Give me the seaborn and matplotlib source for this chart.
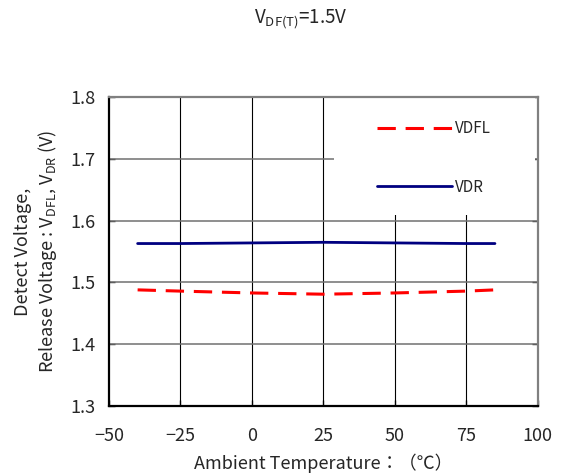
import pandas as pd
import seaborn as sb
import matplotlib.pyplot as plt
from matplotlib.patches import Rectangle

# valores
temperatura = [-40, -25, 0, 25, 50, 75, 85]
vdfl = [1.488, 1.486, 1.483, 1.481, 1.483, 1.486, 1.488]
vdr = [1.563, 1.563, 1.564, 1.565, 1.564, 1.563, 1.563]

dados = pd.DataFrame({'temp': temperatura, 'VDFL': vdfl, 'VDR': vdr})

sb.set_style('white')
plt.rcParams['font.family'] = ['Noto Sans CJK JP', 'DejaVu Sans']
plt.rcParams['mathtext.default'] = 'regular'
plt.rcParams['axes.unicode_minus'] = True

fig = plt.figure(figsize=(5.62, 4.76), dpi=100)
ax = fig.add_axes([0.194, 0.147, 0.763, 0.649])

sb.lineplot(data=dados, x='temp', y='VDFL', ax=ax, color='#ff0000', lw=2.2,
            label='VDFL', zorder=3)
ax.lines[-1].set_dashes((6, 3.2))
sb.lineplot(data=dados, x='temp', y='VDR', ax=ax, color='#000080', lw=2.0,
            label='VDR', zorder=3)

ax.set_xlim(-50, 100)
ax.set_ylim(1.3, 1.8)
ax.set_xticks([-50, -25, 0, 25, 50, 75, 100])
ax.set_yticks([1.3, 1.4, 1.5, 1.6, 1.7, 1.8])
ax.set_yticklabels(['1.3', '1.4', '1.5', '1.6', '1.7', '1.8'])

# grade: verticais pretas, horizontais cinza
ax.grid(False)
for x in [-25, 0, 25, 50, 75]:
    ax.axvline(x, color='black', lw=0.8, zorder=1)
for y in [1.4, 1.5, 1.6, 1.7]:
    ax.axhline(y, color='#707070', lw=1.1, zorder=1)

# fundo branco da legenda (cobre a grade)
ax.add_patch(Rectangle((0.524, 0.618), 0.469, 0.379, transform=ax.transAxes,
                       facecolor='white', edgecolor='none', zorder=2))

for lado in ['left', 'bottom']:
    ax.spines[lado].set_color('black')
    ax.spines[lado].set_linewidth(1.6)
for lado in ['top', 'right']:
    ax.spines[lado].set_color('#808080')
    ax.spines[lado].set_linewidth(1.6)

ax.tick_params(direction='in', length=4, width=1, labelsize=13,
               left=True, right=True, bottom=True, top=False)
ax.tick_params(axis='x', pad=15)
ax.tick_params(axis='y', pad=10)

ax.set_xlabel('Ambient Temperature：（℃）', fontsize=13, labelpad=6)
ax.set_ylabel('Detect Voltage,\nRelease Voltage : $V_{DFL}$, $V_{DR}$ (V)',
              fontsize=13, labelpad=8, linespacing=1.25)

fig.text(0.535, 0.96, '$V_{DF(T)}$=1.5V', ha='center', va='center', fontsize=13.5)

leg = ax.legend(loc='upper left', bbox_to_anchor=(0.625, 0.925), frameon=False,
                fontsize=11, handlelength=4.9, handletextpad=0.2,
                labelspacing=2.7, borderpad=0, borderaxespad=0)
leg.set_zorder(5)

fig.savefig('out.png', dpi=100)
plt.close()
